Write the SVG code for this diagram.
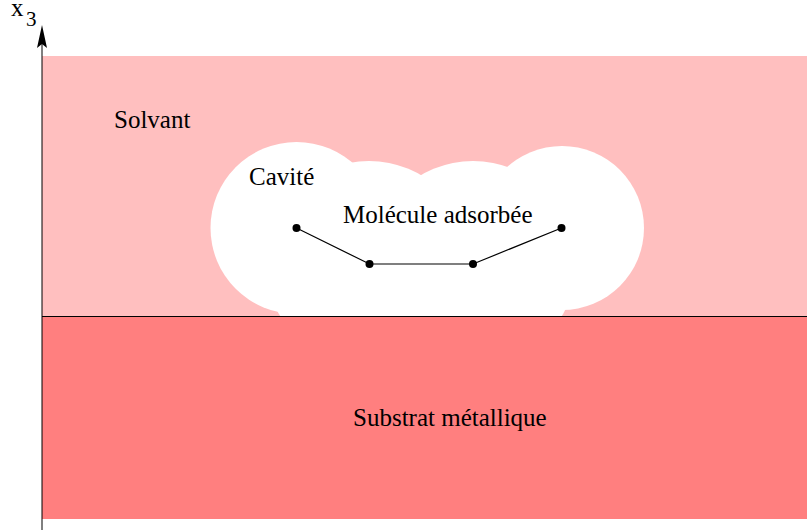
<svg xmlns="http://www.w3.org/2000/svg" width="807" height="531" viewBox="0 0 807 531">
<style>
text{font-family:"Liberation Serif","Times New Roman",serif;font-size:25px;fill:#000}
.cav{fill:#fff}
.bond{stroke:#000;stroke-width:1.2;fill:none}
.atom{fill:#000}
</style>
<rect id="solvant" x="42" y="56" width="765" height="260" fill="#ffbfbf"/>
<g id="cavite" class="cav">
<circle cx="296.500" cy="228" r="86"/>
<circle cx="369" cy="264" r="103"/>
<circle cx="473" cy="264" r="103"/>
<circle cx="562" cy="228" r="82"/>
</g>
<rect id="substrat" x="42" y="316" width="765" height="203" fill="#ff7f7f"/>
<g id="connectors">
<line x1="42" y1="316.500" x2="807" y2="316.500" stroke="#000" stroke-width="1"/>
<line x1="42" y1="530" x2="42" y2="44" stroke="#000" stroke-width="1"/>
<polygon points="42,25 47,48 42,44 37,48" fill="#000"/>
<polyline class="bond" points="296.500,228 369.500,264 473,264 561.500,228"/>
</g>
<g id="atoms" class="atom">
<circle cx="296.500" cy="228" r="4"/>
<circle cx="369.500" cy="264" r="4"/>
<circle cx="473" cy="264" r="4"/>
<circle cx="561.500" cy="228" r="4"/>
</g>
<g id="labels">
<text x="11" y="15.500">x</text>
<text x="26" y="26" style="font-size:21px">3</text>
<text x="114" y="128">Solvant</text>
<text x="249" y="185">Cavité</text>
<text x="343" y="223">Molécule adsorbée</text>
<text x="353" y="426">Substrat métallique</text>
</g>
</svg>
